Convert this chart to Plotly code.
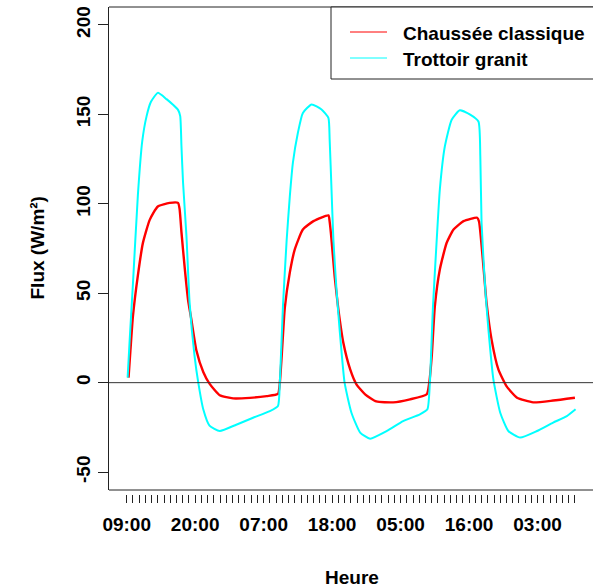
import plotly.graph_objects as go

# ---- data (hours since 09:00 of day 1) ----
hours_chaussee = [0.3, 0.6, 1.0, 1.8, 2.6, 3.7, 5.0, 6.9, 8.25, 8.5, 8.8, 9.3, 9.85, 10.4, 11.2, 12.3, 13.3,
                  14.95, 17.1, 19.8, 22.5, 24.3,
                  24.6, 24.9, 25.4, 26.2, 27.0, 28.3, 30.0, 32.4, 32.6, 32.9, 33.4, 34.0, 34.8, 35.9, 36.9,
                  38.3, 40.1, 42.8, 45.5, 48.2,
                  48.6, 49.0, 49.5, 50.3, 51.4, 52.5, 54.1, 56.3, 56.6, 57.3, 57.8, 58.6, 59.7, 61.0, 62.7,
                  65.3, 68.5, 72.0]
flux_chaussee = [2.8, 18, 37, 60, 78, 91, 98.5, 100.5, 100.5, 97, 84, 65, 46.5, 35, 18, 6, -0.5,
                 -7, -8.8, -8.5, -7.5, -6.3,
                 0, 15, 42, 61.5, 74.5, 85.6, 90.3, 93.5, 90, 80, 59.6, 41, 22.3, 7.4, -0.9,
                 -6.5, -10.5, -11, -9.3, -6.5,
                 0, 14.9, 42.8, 63.3, 78.2, 85.6, 90.3, 92.2, 90, 65, 44.7, 24.2, 7.4, -1.9, -8.4,
                 -11, -10, -8.4]

hours_granit = [0.15, 0.5, 1.0, 1.8, 2.5, 3.2, 3.9, 5.0, 6.4, 7.4, 8.25, 8.6, 8.8, 9.05, 9.6, 10.1, 10.9,
                11.5, 12.3, 13.3, 14.95, 17.6, 20.3, 23.0, 24.3,
                24.6, 25.1, 25.7, 26.2, 26.7, 27.5, 28.3, 29.7, 31.3, 32.4, 32.6, 32.9, 33.2, 33.7, 34.2,
                35.0, 36.1, 37.5, 39.1, 41.8, 44.4, 47.1, 48.3,
                48.7, 49.2, 49.8, 50.3, 51.1, 52.2, 53.5, 55.1, 56.5, 56.8, 57.0, 57.6, 58.1, 58.9, 60.0,
                61.3, 63.2, 65.9, 68.5, 70.7, 72.1]
flux_granit = [2.8, 25, 55, 105, 135, 149, 157, 162, 158.5, 155.5, 152.5, 149, 132, 112, 82, 45, 15,
               0, -14.9, -24, -27, -23.5, -19.6, -15.9, -13,
               0, 42.8, 80, 104, 123, 139.7, 150.8, 155.5, 152.7, 148, 136, 108, 80, 52, 29.8,
               0, -16.8, -27.9, -31.3, -27, -21.5, -17.7, -14.9,
               0, 42.8, 80, 108, 132, 147, 152.3, 150, 146, 126.6, 89.4, 52, 29.8, 1.8, -16.8,
               -27, -30.7, -27, -22.3, -18.7, -14.9]

tick_hours = list(range(0, 73))
label_hours = [0, 11, 22, 33, 44, 55, 66]
label_texts = ["09:00", "20:00", "07:00", "18:00", "05:00", "16:00", "03:00"]
y_ticks = [-50, 0, 50, 100, 150, 200]
y_tick_texts = ["-50", "0", "50", "100", "150", "200"]

series_names = ["Chaussée classique", "Trottoir granit"]
series_colors = ["#FF0000", "#00FFFF"]

# ---- geometry (pixels) ----
W, H = 593, 588
L, R, T, B = 109, 0, 7, 94
PW, PH = W - L - R, H - T - B
FRAME_BOTTOM_PX = 490


def px_x(p):
    return (p - L) / PW


def px_y(p):
    return (H - B - p) / PH


FONT = dict(family="Liberation Sans, Arial, sans-serif", size=19, color="black", weight="bold")

tick_text = []
for h in tick_hours:
    tick_text.append(label_texts[label_hours.index(h)] if h in label_hours else "")

fig = go.Figure()
fig.add_trace(go.Scatter(x=hours_chaussee, y=flux_chaussee, mode="lines", name=series_names[0],
                         line=dict(color=series_colors[0], width=2.4, shape="spline", smoothing=0.5),
                         showlegend=False, hoverinfo="skip"))
fig.add_trace(go.Scatter(x=hours_granit, y=flux_granit, mode="lines", name=series_names[1],
                         line=dict(color=series_colors[1], width=2.0, shape="spline", smoothing=0.5),
                         showlegend=False, hoverinfo="skip"))

ybot = px_y(FRAME_BOTTOM_PX)
fig.update_layout(
    width=W, height=H,
    margin=dict(l=L, r=R, t=T, b=B, pad=0),
    paper_bgcolor="white", plot_bgcolor="white",
    font=FONT,
    xaxis=dict(range=[-2.84, 74.9], tickvals=tick_hours, ticktext=tick_text, ticks="outside",
               ticklen=8, tickwidth=1, tickcolor="#222", showline=False, showgrid=False,
               zeroline=False, anchor="free", position=0, tickangle=0, tickfont=FONT,
               ticklabelstandoff=5),
    yaxis=dict(range=[-60, 210], domain=[ybot, 1], tickvals=y_ticks, ticktext=y_tick_texts,
               ticks="outside", ticklen=10,
               tickwidth=1, tickcolor="#222", showline=True, linecolor="#222", linewidth=1,
               showgrid=False, zeroline=False, tickangle=-90, tickfont=FONT),
)

shapes = [
    # frame: top and bottom
    dict(type="line", xref="paper", yref="paper", x0=0, x1=1.02, y0=1, y1=1, line=dict(color="#222", width=1)),
    dict(type="line", xref="paper", yref="paper", x0=0, x1=1.02, y0=ybot, y1=ybot, line=dict(color="#222", width=1)),
    # horizontal line at 0
    dict(type="line", xref="paper", yref="y", x0=0, x1=1, y0=0, y1=0, line=dict(color="#333", width=1),
         layer="above"),
    # legend box
    dict(type="rect", xref="paper", yref="paper", x0=px_x(331), x1=1.05, y0=px_y(79), y1=1,
         line=dict(color="#222", width=1), fillcolor="white"),
    dict(type="line", xref="paper", yref="paper", x0=px_x(350), x1=px_x(387), y0=px_y(32), y1=px_y(32),
         line=dict(color=series_colors[0], width=1)),
    dict(type="line", xref="paper", yref="paper", x0=px_x(350), x1=px_x(387), y0=px_y(58), y1=px_y(58),
         line=dict(color=series_colors[1], width=1)),
]
fig.update_layout(shapes=shapes)

ann = [
    dict(text=series_names[0], x=px_x(401), y=px_y(33), xanchor="left", yanchor="middle"),
    dict(text=series_names[1], x=px_x(401), y=px_y(59), xanchor="left", yanchor="middle"),
    dict(text="Heure", x=px_x(352), y=px_y(577), xanchor="center", yanchor="middle"),
    dict(text="Flux (W/m²)", x=px_x(37), y=px_y(248.5), xanchor="center", yanchor="middle", textangle=-90),
]
for a in ann:
    a.update(xref="paper", yref="paper", showarrow=False, font=FONT)
fig.update_layout(annotations=ann)

fig.write_html("out.html", config={"displayModeBar": False},
               post_script="document.body.style.margin='0px';document.body.style.padding='0px';")
